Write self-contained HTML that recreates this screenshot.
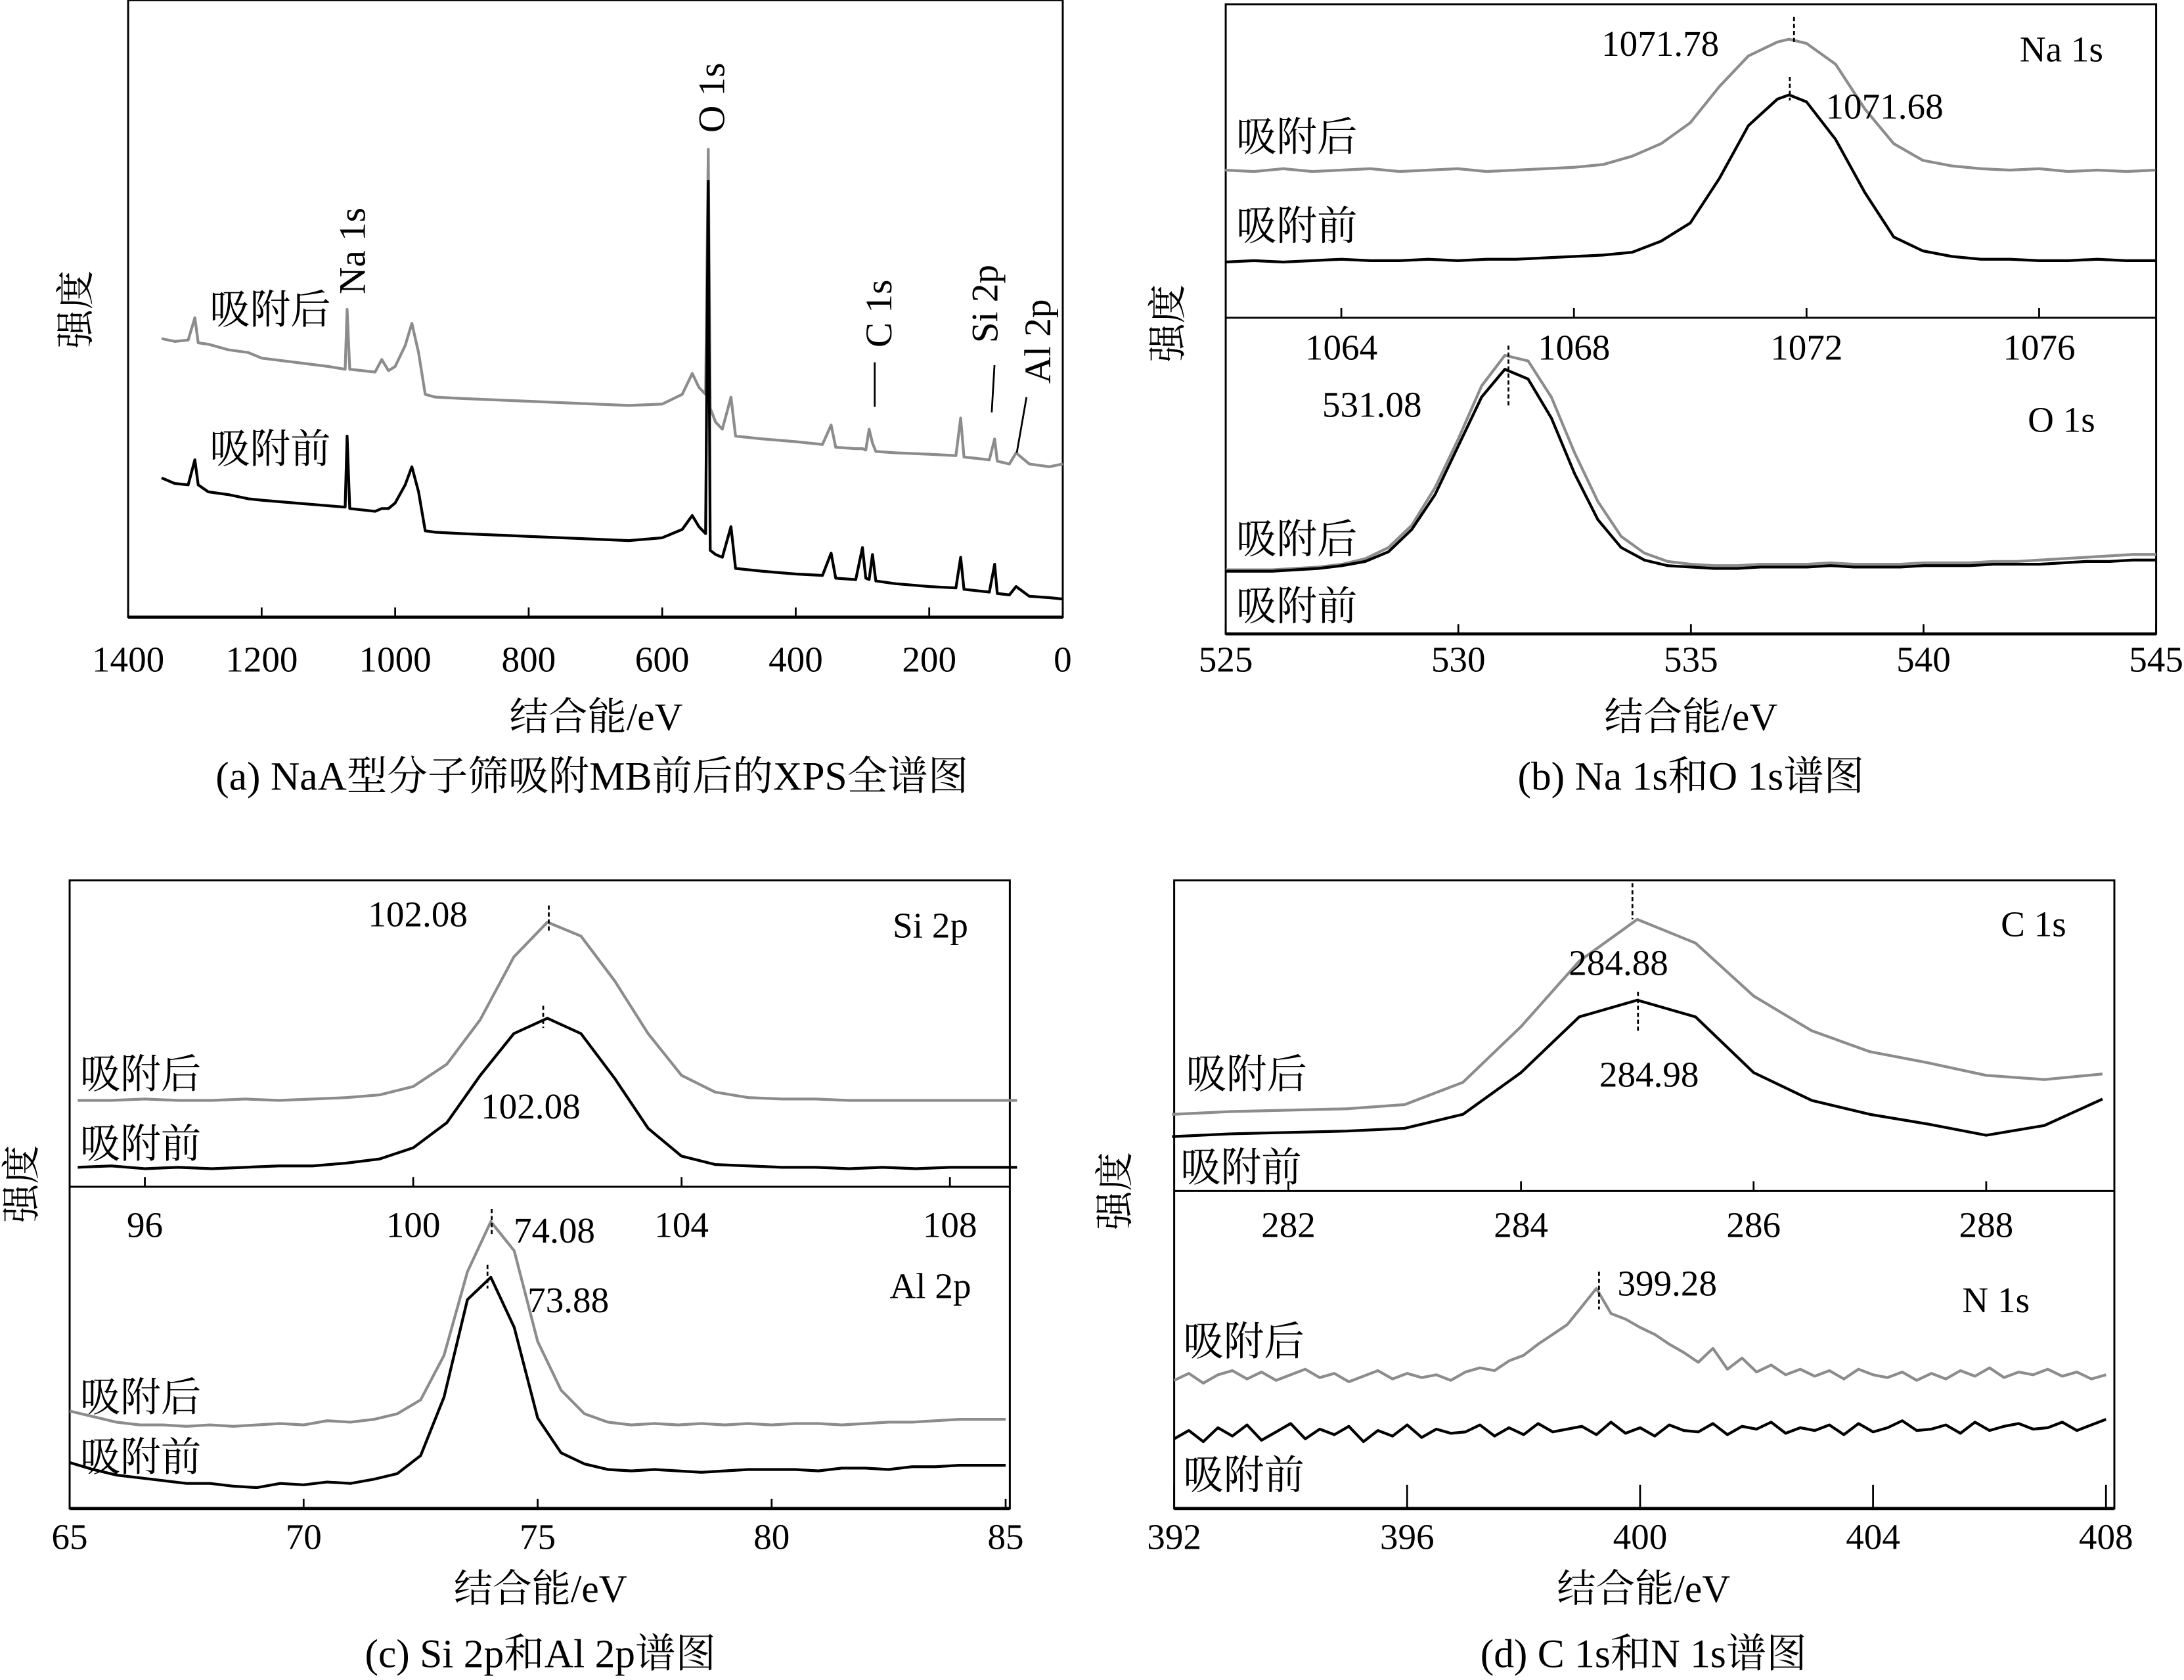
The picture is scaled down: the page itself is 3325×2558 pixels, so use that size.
<!DOCTYPE html>
<html><head><meta charset="utf-8">
<style>
html,body{margin:0;padding:0;background:#fff;}
svg{display:block;}
text{font-family:"Liberation Serif","Noto Serif CJK SC",serif;fill:#000;}
</style></head>
<body>
<svg id="fig" width="3325" height="2558" viewBox="0 0 1568 1206" xmlns="http://www.w3.org/2000/svg"></svg>
<script>
// ---------- Panel (a) survey ----------
const aEnergy=[1350,1330,1310,1300,1295,1280,1250,1220,1200,1150,1100,1075,1072,1068,1030,1020,1010,1000,985,975,965,955,940,900,850,800,750,700,650,600,570,555,545,535,531,528,520,510,497,490,450,400,360,347,340,310,300,295,290,285,280,250,200,160,153,148,110,102,98,80,70,50,20,0];
const aAfter=[200,198,199,215,197,196,192,190,186,183,180,178,221,178,176,185,177,180,195,211,190,160,158,157,156,155,154,153,152,153,160,175,165,160,336,150,140,135,158,130,128,126,124,138,122,121,121,120,135,125,119,118,117,116,143,115,113,128,112,110,118,110,108,110];
const aBefore=[100,96,95,113,95,90,88,85,84,82,80,79,130,78,76,78,78,82,95,108,90,62,61,60,59,58,57,56,55,57,63,73,65,60,313,48,45,43,65,35,33,31,30,46,28,27,50,28,27,45,26,24,22,21,43,20,18,38,17,16,22,15,14,13];
const aTicks=[1400,1200,1000,800,600,400,200,0];
// ---------- Panel (b) Na 1s ----------
const naEnergy=[1062,1062.5,1063,1063.5,1064,1064.5,1065,1065.5,1066,1066.5,1067,1067.5,1068,1068.5,1069,1069.5,1070,1070.5,1071,1071.5,1071.7,1072,1072.5,1073,1073.5,1074,1074.5,1075,1075.5,1076,1076.5,1077,1077.5,1078];
const naAfter=[106,105,107,105,106,107,105,106,107,105,106,107,108,110,116,125,140,166,188,198,200,197,182,150,125,113,109,107,106,107,105,106,105,106];
const naBefore=[40,41,40,41,42,41,41,42,41,42,42,43,44,45,47,55,68,100,138,157,160,155,128,90,58,48,44,42,42,41,41,42,41,41];
const naTicks=[1064,1068,1072,1076];
// ---------- Panel (b) O 1s ----------
const oEnergy=[525,525.5,526,526.5,527,527.5,528,528.5,529,529.5,530,530.5,531,531.5,532,532.5,533,533.5,534,534.5,535,535.5,536,536.5,537,537.5,538,538.5,539,539.5,540,540.5,541,541.5,542,542.5,543,543.5,544,544.5,545];
const oAfter=[46,46,46,47,48,50,54,62,78,105,140,178,200,196,170,130,95,70,58,52,50,49,49,50,50,50,51,50,50,50,51,51,51,52,52,53,54,55,56,57,57];
const oBefore=[45,45,45,46,47,49,52,59,75,100,135,170,190,183,155,115,82,62,53,49,48,47,47,48,48,48,49,48,48,48,49,49,49,50,50,50,51,52,52,53,53];
const oTicks=[525,530,535,540,545];
// ---------- Panel (c) Si 2p ----------
const siEnergy=[95,95.5,96,96.5,97,97.5,98,98.5,99,99.5,100,100.5,101,101.5,102,102.5,103,103.5,104,104.5,105,105.5,106,106.5,107,107.5,108,108.5,109];
const siAfter=[62,62,63,62,62,63,62,63,64,66,72,88,120,165,190,180,148,110,80,68,64,63,63,62,62,62,62,62,62];
const siBefore=[14,15,13,14,13,14,15,15,17,20,28,46,80,110,121,110,78,42,22,16,15,14,14,13,14,13,14,14,14];
const siTicks=[96,100,104,108];
// ---------- Panel (c) Al 2p ----------
const alEnergy=[65,65.5,66,66.5,67,67.5,68,68.5,69,69.5,70,70.5,71,71.5,72,72.5,73,73.5,74,74.5,75,75.5,76,76.5,77,77.5,78,78.5,79,79.5,80,80.5,81,81.5,82,82.5,83,83.5,84,84.5,85];
const alAfter=[70,66,62,60,60,59,60,59,60,61,60,63,62,64,68,78,110,170,206,185,120,85,68,62,60,61,60,61,60,61,60,61,61,60,61,62,62,63,64,64,64];
const alBefore=[33,28,24,22,20,18,18,16,15,18,17,19,18,21,25,38,80,150,166,130,65,40,32,28,27,28,27,26,27,28,28,28,27,29,29,28,30,30,31,31,31];
const alTicks=[65,70,75,80,85];
// ---------- Panel (d) C 1s ----------
const cEnergy=[281,281.5,282,282.5,283,283.5,284,284.5,285,285.5,286,286.5,287,287.5,288,288.5,289];
const cAfter=[55,57,58,59,62,78,118,165,195,178,140,115,100,92,83,80,84];
const cBefore=[39,41,42,43,45,55,85,125,137,125,85,65,55,48,40,47,66];
const cTicks=[282,284,286,288];
// ---------- Panel (d) N 1s ----------
const nStart=392, nStep=0.25;
const nAfter=[92,97,90,96,99,93,98,92,96,100,94,97,91,95,99,93,97,94,96,92,98,101,99,106,110,118,125,132,145,158,140,136,130,125,118,112,105,115,100,108,98,103,96,100,95,99,93,100,96,94,98,92,97,93,99,95,101,94,98,96,100,95,98,93,96];
const nBefore=[50,56,48,58,52,60,49,55,61,50,57,53,59,48,56,52,60,51,57,54,55,60,52,58,53,61,55,57,59,53,62,54,58,52,60,56,55,61,53,59,57,62,54,58,56,60,53,61,55,58,63,56,57,60,54,62,56,59,61,57,58,62,56,60,64];
const nEnergy=nAfter.map((_,i)=>nStart+i*nStep);
const nTicks=[392,396,400,404,408];

const NS="http://www.w3.org/2000/svg";
const svg=document.getElementById('fig');
function el(tag,attrs,parent){const e=document.createElementNS(NS,tag);for(const k in attrs)e.setAttribute(k,attrs[k]);(parent||svg).appendChild(e);return e;}
function txt(s,x,y,size,anchor,name,rot){const t=el('text',{x:x,y:y,'font-size':size,'text-anchor':anchor||'middle'});
 if(rot)t.setAttribute('transform','rotate(-90 '+x+' '+y+')');
 t.textContent=s;
 
 
 return t;}
function lin(d0,d1,r0,r1){return v=>r0+(v-d0)*(r1-r0)/(d1-d0);}
function series(xs,vs,sx,sy,color,name){const d=xs.map((x,i)=>(i?'L':'M')+sx(x).toFixed(1)+' '+sy(vs[i]).toFixed(1)).join('');
 const p=el('path',{d:d,fill:'none',stroke:color,'stroke-width':2,'stroke-linejoin':'round'});
 
 
 return p;}
function ticksBottom(ticks,sx,y,name,labelY,len){ticks.forEach(t=>{const X=sx(t);
 const l=el('line',{x1:X,y1:y,x2:X,y2:y-(len||7),stroke:'#000','stroke-width':1.3});
 
 
 txt(String(t),X,labelY,26,'middle',name+'-label');});}
function box(x0,y0,x1,y1,name){const r=el('rect',{x:x0,y:y0,width:x1-x0,height:y1-y0,fill:'none',stroke:'#000','stroke-width':1.4});
 
 
 el('line',{x1:x0,y1:y1,x2:x1,y2:y1,stroke:'#000','stroke-width':2.2});}
function hline(x0,x1,y,name){const l=el('line',{x1:x0,y1:y,x2:x1,y2:y,stroke:'#000','stroke-width':1.4});
 
 }
function dash(x,y0,y1,name){const l=el('line',{x1:x,y1:y0,x2:x,y2:y1,stroke:'#000','stroke-width':1.3,'stroke-dasharray':'3,2'});
 
 }
const GRAY='#8c8c8c';
const CJK=29;
const CAP=29;
const AX=28;

// ===== (a) =====
box(92,0,763,443,'panel-a-frame');
{const sx=lin(1400,0,92,763), sy=lin(0,443,443,0);
 series(aEnergy,aAfter,sx,sy,GRAY,'survey-after-line');
 series(aEnergy,aBefore,sx,sy,'#000','survey-before-line');
 ticksBottom(aTicks,sx,443,'panel-a-x-tick',482);
 txt('O 1s',520,70,27,'middle','o1s-peak-label',true);
 txt('Na 1s',262,180,27,'middle','na1s-peak-label',true);
 txt('C 1s',640,225,27,'middle','c1s-peak-label',true);
 txt('Si 2p',716,218,27,'middle','si2p-peak-label',true);
 txt('Al 2p',754,245,27,'middle','al2p-peak-label',true);
 [[628,260,628,292],[714,262,712,296],[737,285,730,325]].forEach(a=>{const l=el('line',{x1:a[0],y1:a[1],x2:a[2],y2:a[3],stroke:'#000','stroke-width':1.3});
  
  });
 txt('吸附后',194,232,CJK,'middle','after-label-a');
 txt('吸附前',194,332,CJK,'middle','before-label-a');
 txt('结合能/eV',428,524,AX,'middle','panel-a-x-axis-title');
 txt('强度',64,222,AX,'middle','panel-a-y-axis-title',true);
 txt('(a) NaA型分子筛吸附MB前后的XPS全谱图',425,567,CAP,'middle','panel-a-caption');}

// ===== (b) =====
box(880,3,1548,455,'panel-b-frame');
hline(880,1548,228,'panel-b-divider');
{const sx=lin(1064,1076,963,1464), sy=lin(0,228,228,0);
 series(naEnergy,naAfter,sx,sy,GRAY,'na1s-after-line');
 series(naEnergy,naBefore,sx,sy,'#000','na1s-before-line');
 ticksBottom(naTicks,sx,228,'na1s-x-tick',258);
 dash(1288,12,30,'na1s-after-peak-marker');
 dash(1285,55,72,'na1s-before-peak-marker');
 txt('1071.78',1192,40,26,'middle','na1s-after-peak-value');
 txt('1071.68',1353,85,26,'middle','na1s-before-peak-value');
 txt('Na 1s',1480,44,26,'middle','na1s-title');
 txt('吸附后',931,108,CJK,'middle','after-label-na');
 txt('吸附前',931,172,CJK,'middle','before-label-na');}
{const sx=lin(525,545,880,1548), sy=lin(0,455,455,0);
 series(oEnergy,oAfter,sx,sy,GRAY,'o1s-after-line');
 series(oEnergy,oBefore,sx,sy,'#000','o1s-before-line');
 ticksBottom(oTicks,sx,455,'o1s-x-tick',482);
 dash(1083,248,292,'o1s-peak-marker');
 txt('531.08',985,299,26,'middle','o1s-peak-value');
 txt('O 1s',1480,310,26,'middle','o1s-title');
 txt('吸附后',931,397,CJK,'middle','after-label-o');
 txt('吸附前',931,445,CJK,'middle','before-label-o');
 txt('结合能/eV',1214,524,AX,'middle','panel-b-x-axis-title');
 txt('强度',848,232,AX,'middle','panel-b-y-axis-title',true);
 txt('(b) Na 1s和O 1s谱图',1214,567,CAP,'middle','panel-b-caption');}

// ===== (c) =====
box(50,632,725,1083,'panel-c-frame');
hline(50,725,852,'panel-c-divider');
{const sx=lin(96,108,104,682), sy=lin(0,220,852,632);
 series(siEnergy,siAfter,sx,sy,GRAY,'si2p-after-line');
 series(siEnergy,siBefore,sx,sy,'#000','si2p-before-line');
 ticksBottom(siTicks,sx,852,'si2p-x-tick',888);
 dash(394,650,668,'si2p-after-peak-marker');
 dash(390,722,738,'si2p-before-peak-marker');
 txt('102.08',300,665,26,'middle','si2p-after-peak-value');
 txt('102.08',381,803,26,'middle','si2p-before-peak-value');
 txt('Si 2p',668,673,26,'middle','si2p-title');
 txt('吸附后',101,781,CJK,'middle','after-label-si');
 txt('吸附前',101,831,CJK,'middle','before-label-si');}
{const sx=lin(65,85,50,722), sy=lin(0,231,1083,852);
 series(alEnergy,alAfter,sx,sy,GRAY,'al2p-after-line');
 series(alEnergy,alBefore,sx,sy,'#000','al2p-before-line');
 ticksBottom(alTicks,sx,1083,'al2p-x-tick',1112);
 dash(353,868,888,'al2p-after-peak-marker');
 dash(350,908,925,'al2p-before-peak-marker');
 txt('74.08',398,892,26,'middle','al2p-after-peak-value');
 txt('73.88',408,942,26,'middle','al2p-before-peak-value');
 txt('Al 2p',668,932,26,'middle','al2p-title');
 txt('吸附后',101,1013,CJK,'middle','after-label-al');
 txt('吸附前',101,1056,CJK,'middle','before-label-al');
 txt('结合能/eV',388,1150,AX,'middle','panel-c-x-axis-title');
 txt('强度',25,850,AX,'middle','panel-c-y-axis-title',true);
 txt('(c) Si 2p和Al 2p谱图',388,1197,CAP,'middle','panel-c-caption');}

// ===== (d) =====
box(843,632,1518,1083,'panel-d-frame');
hline(843,1518,855,'panel-d-divider');
{const sx=lin(282,288,925,1426), sy=lin(0,223,855,632);
 series(cEnergy,cAfter,sx,sy,GRAY,'c1s-after-line');
 series(cEnergy,cBefore,sx,sy,'#000','c1s-before-line');
 ticksBottom(cTicks,sx,855,'c1s-x-tick',888);
 dash(1172,634,660,'c1s-after-peak-marker');
 dash(1176,712,742,'c1s-before-peak-marker');
 txt('284.88',1162,700,26,'middle','c1s-after-peak-value');
 txt('284.98',1184,780,26,'middle','c1s-before-peak-value');
 txt('C 1s',1460,672,26,'middle','c1s-title');
 txt('吸附后',895,781,CJK,'middle','after-label-c');
 txt('吸附前',891,848,CJK,'middle','before-label-c');}
{const sx=lin(392,408,843,1512), sy=lin(0,228,1083,855);
 series(nEnergy,nAfter,sx,sy,GRAY,'n1s-after-line');
 series(nEnergy,nBefore,sx,sy,'#000','n1s-before-line');
 ticksBottom(nTicks,sx,1083,'n1s-x-tick',1112,17);
 dash(1148,913,940,'n1s-peak-marker');
 txt('399.28',1197,930,26,'middle','n1s-peak-value');
 txt('N 1s',1433,942,26,'middle','n1s-title');
 txt('吸附后',893,973,CJK,'middle','after-label-n');
 txt('吸附前',893,1069,CJK,'middle','before-label-n');
 txt('结合能/eV',1180,1150,AX,'middle','panel-d-x-axis-title');
 txt('强度',810,855,AX,'middle','panel-d-y-axis-title',true);
 txt('(d) C 1s和N 1s谱图',1180,1197,CAP,'middle','panel-d-caption');}
</script>
</body></html>
